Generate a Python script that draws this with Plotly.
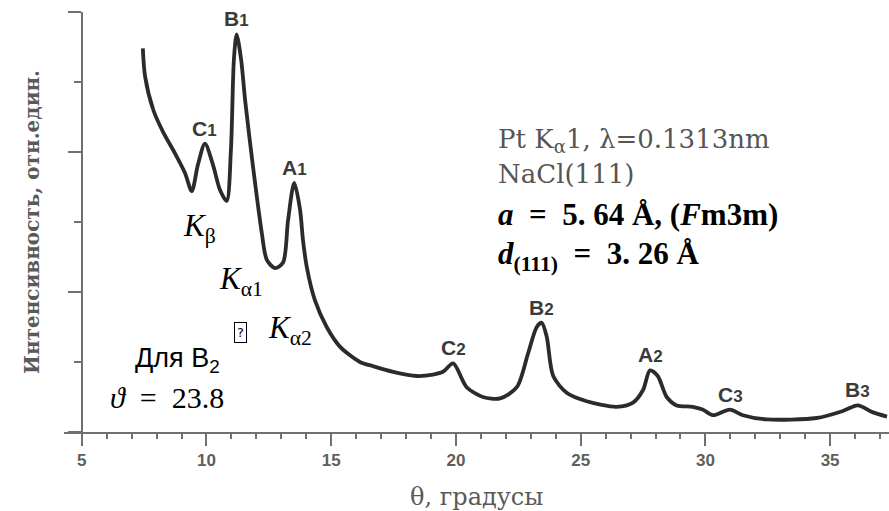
import plotly.graph_objects as go

# ---- data ----
theta = [7.45, 7.54, 7.87, 8.27, 8.74, 9.14, 9.41, 9.66, 9.94, 10.26, 10.54, 10.81,
         10.98, 11.10, 11.21, 11.39, 11.55, 11.87, 12.22, 12.42, 12.75, 13.07, 13.27,
         13.52, 13.75, 13.87, 14.02, 14.35, 14.82, 15.35, 16.15, 16.68, 17.48, 18.43,
         19.08, 19.48, 19.89, 20.43, 21.08, 21.77, 22.44, 22.89, 23.24, 23.44, 23.64,
         23.90, 24.44, 25.24, 26.44, 27.10, 27.50, 27.78, 28.09, 28.45, 28.85, 29.49,
         29.89, 30.30, 30.98, 31.50, 32.46, 34.46, 35.51, 36.11, 36.72, 37.28]
intensity = [2.74, 2.54, 2.30, 2.14, 1.99, 1.85, 1.72, 1.91, 2.06, 1.91, 1.73, 1.65,
             2.01, 2.66, 2.84, 2.66, 2.37, 1.89, 1.42, 1.23, 1.17, 1.21, 1.51,
             1.78, 1.59, 1.37, 1.18, 0.94, 0.75, 0.61, 0.50, 0.47, 0.43, 0.40,
             0.41, 0.43, 0.49, 0.32, 0.25, 0.24, 0.32, 0.56, 0.75, 0.78, 0.68,
             0.40, 0.28, 0.22, 0.18, 0.21, 0.30, 0.44, 0.40, 0.25, 0.19, 0.18,
             0.16, 0.12, 0.16, 0.12, 0.09, 0.10, 0.15, 0.19, 0.14, 0.11]

peak_names = ["C", "B", "A", "C", "B", "A", "C", "B"]
peak_orders = ["1", "1", "1", "2", "2", "2", "3", "3"]
peak_theta = [9.94, 11.21, 13.52, 19.89, 23.44, 27.78, 31.0, 36.11]
peak_intensity = [2.06, 2.84, 1.78, 0.49, 0.78, 0.44, 0.16, 0.19]

x_ticks = [5, 10, 15, 20, 25, 30, 35]
x_min, x_max = 4.29, 37.36
y_min, y_max = 0, 3

fig = go.Figure()
fig.add_trace(go.Scatter(x=theta, y=intensity, mode="lines",
                         line=dict(color="#2b2b2b", width=3.8, shape="spline", smoothing=0.8),
                         hoverinfo="skip", showlegend=False))

axis_col = "#707070"
fig.update_layout(
    width=889, height=511,
    margin=dict(l=64, r=0, t=12, b=79),
    paper_bgcolor="white", plot_bgcolor="white",
    xaxis=dict(range=[x_min, x_max], tickvals=x_ticks, ticktext=[str(v) for v in x_ticks],
               showgrid=False, zeroline=False, showline=True, linecolor=axis_col, linewidth=2,
               ticks="outside", ticklen=12, tickwidth=2, tickcolor=axis_col,
               tickfont=dict(family="Liberation Sans", size=17, color="#5e5e5e", weight="bold"),
               minor=dict(dtick=1, tick0=5, ticks="outside", ticklen=5, tickwidth=1.5,
                          tickcolor=axis_col, showgrid=False)),
    yaxis=dict(range=[y_min, y_max], anchor="free",
               position=(5 - x_min) / (x_max - x_min),
               showgrid=False, zeroline=False, showline=True, linecolor=axis_col, linewidth=2,
               showticklabels=False, tick0=0, dtick=1,
               ticks="outside", ticklen=13, tickwidth=2, tickcolor=axis_col,
               minor=dict(dtick=0.5, ticks="outside", ticklen=7, tickwidth=1.5,
                          tickcolor=axis_col, showgrid=False)),
)

# peak labels
for n, o, px, py in zip(peak_names, peak_orders, peak_theta, peak_intensity):
    fig.add_annotation(x=px, y=py, xref="x", yref="y", yanchor="bottom", yshift=2,
                       text=f"{n}<span style='font-size:17px'>{o}</span>", showarrow=False,
                       font=dict(family="Liberation Sans", size=21, color="#3a3a3a", weight="bold"))

def txt(x, y, text, size, family="Liberation Serif", color="black", weight="normal",
        xanchor="left", **kw):
    fig.add_annotation(x=x, y=y, xref="paper", yref="paper", text=text, showarrow=False,
                       xanchor=xanchor, yanchor="middle",
                       font=dict(family=family, size=size, color=color, weight=weight), **kw)

E = "\u2002"  # en space (math-style spacing)
txt(0.524, 0.693, "Pt K<sub>α</sub>1, λ=0.1313nm", 26, family="DejaVu Serif", color="#555555")
txt(0.524, 0.614, "NaCl(111)", 26, family="DejaVu Serif", color="#555555")
txt(0.524, 0.519, f"<i>a</i>{E}={E}5. 64 Å, (<i>F</i>m3m)", 31, weight="bold")
txt(0.524, 0.420, f"<i>d</i><sub>(111)</sub>{E}={E}3. 26 Å", 31, weight="bold")
txt(0.142, 0.486, "<i>K</i><sub>β</sub>", 31)
txt(0.185, 0.360, "<i>K</i><sub>α1</sub>", 31)
txt(0.2145, 0.236, "?", 13, family="DejaVu Sans", xanchor="center",
    bordercolor="black", borderwidth=1, borderpad=2)
txt(0.245, 0.243, "<i>K</i><sub>α2</sub>", 31)
txt(0.0836, 0.171, "Для B<sub>2</sub>", 27, family="Liberation Sans")
txt(0.0533, 0.081, f"<i>ϑ</i>{E}={E}23.8", 30)

# axis titles
fig.add_annotation(x=-0.0388, y=0.5, xref="paper", yref="paper", text="Интенсивность, отн.един.",
                   textangle=-90, showarrow=False, xanchor="center", yanchor="middle",
                   font=dict(family="DejaVu Serif", size=20, color="#5a5a5a", weight="bold"))
fig.add_annotation(x=0.5006, y=-0.155, xref="paper", yref="paper", text="θ, градусы",
                   showarrow=False, xanchor="center", yanchor="middle",
                   font=dict(family="DejaVu Serif", size=24, color="#5a5a5a"))

fig.write_html("out.html")
